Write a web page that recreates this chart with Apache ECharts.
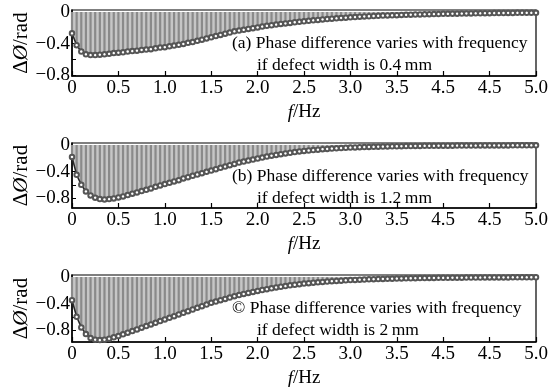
<!DOCTYPE html>
<html>
<head>
<meta charset="utf-8">
<script src="https://cdn.jsdelivr.net/npm/echarts@6/dist/echarts.min.js"></script>
<style>
html,body{margin:0;padding:0;background:#fff;}
#c{width:555px;height:387px;}
</style>
</head>
<body>
<div id="c"></div>
<script>
// ---- data ----
var freq = [0.00,0.05,0.10,0.15,0.20,0.25,0.30,0.35,0.40,0.45,0.50,0.55,0.60,0.65,0.70,0.75,0.80,0.85,0.90,0.95,
1.00,1.05,1.10,1.15,1.20,1.25,1.30,1.35,1.40,1.45,1.50,1.55,1.60,1.65,1.70,1.75,1.80,1.85,1.90,1.95,
2.00,2.05,2.10,2.15,2.20,2.25,2.30,2.35,2.40,2.45,2.50,2.55,2.60,2.65,2.70,2.75,2.80,2.85,2.90,2.95,
3.00,3.05,3.10,3.15,3.20,3.25,3.30,3.35,3.40,3.45,3.50,3.55,3.60,3.65,3.70,3.75,3.80,3.85,3.90,3.95,
4.00,4.05,4.10,4.15,4.20,4.25,4.30,4.35,4.40,4.45,4.50,4.55,4.60,4.65,4.70,4.75,4.80,4.85,4.90,4.95,5.00];

var phaseA = [-0.27,-0.42,-0.50,-0.535,-0.545,-0.545,-0.54,-0.535,-0.53,-0.52,-0.515,-0.51,-0.50,-0.495,-0.49,-0.48,-0.475,-0.47,-0.46,-0.45,
-0.445,-0.435,-0.425,-0.415,-0.405,-0.39,-0.38,-0.365,-0.35,-0.335,-0.32,-0.305,-0.29,-0.275,-0.26,-0.245,-0.235,-0.225,-0.215,-0.205,
-0.195,-0.185,-0.175,-0.168,-0.16,-0.152,-0.145,-0.138,-0.13,-0.124,-0.118,-0.112,-0.106,-0.10,-0.095,-0.09,-0.085,-0.08,-0.076,-0.072,
-0.068,-0.064,-0.06,-0.057,-0.054,-0.051,-0.048,-0.046,-0.044,-0.042,-0.04,-0.038,-0.036,-0.034,-0.032,-0.031,-0.029,-0.028,-0.027,-0.026,
-0.024,-0.023,-0.022,-0.021,-0.02,-0.019,-0.018,-0.017,-0.017,-0.016,-0.015,-0.014,-0.014,-0.013,-0.012,-0.012,-0.011,-0.011,-0.01,-0.01,-0.01];

var phaseB = [-0.18,-0.45,-0.60,-0.70,-0.76,-0.795,-0.815,-0.82,-0.815,-0.805,-0.79,-0.775,-0.755,-0.735,-0.715,-0.695,-0.675,-0.655,-0.63,-0.61,
-0.59,-0.57,-0.55,-0.53,-0.505,-0.485,-0.465,-0.445,-0.425,-0.405,-0.385,-0.365,-0.345,-0.325,-0.305,-0.285,-0.265,-0.25,-0.235,-0.22,
-0.205,-0.19,-0.175,-0.162,-0.15,-0.138,-0.127,-0.117,-0.107,-0.098,-0.09,-0.083,-0.076,-0.07,-0.064,-0.059,-0.054,-0.05,-0.046,-0.042,
-0.039,-0.036,-0.033,-0.031,-0.029,-0.027,-0.025,-0.023,-0.022,-0.02,-0.019,-0.018,-0.017,-0.016,-0.015,-0.014,-0.013,-0.013,-0.012,-0.011,
-0.011,-0.01,-0.01,-0.009,-0.009,-0.008,-0.008,-0.008,-0.007,-0.007,-0.007,-0.006,-0.006,-0.006,-0.006,-0.005,-0.005,-0.005,-0.005,-0.005,-0.005];

var phaseC = [-0.35,-0.60,-0.76,-0.86,-0.92,-0.945,-0.95,-0.945,-0.93,-0.91,-0.89,-0.865,-0.84,-0.815,-0.79,-0.765,-0.74,-0.715,-0.69,-0.665,
-0.64,-0.615,-0.59,-0.565,-0.54,-0.515,-0.49,-0.465,-0.44,-0.415,-0.39,-0.37,-0.35,-0.33,-0.31,-0.29,-0.272,-0.255,-0.24,-0.225,
-0.21,-0.196,-0.183,-0.17,-0.158,-0.147,-0.136,-0.126,-0.117,-0.108,-0.10,-0.093,-0.086,-0.08,-0.074,-0.069,-0.064,-0.059,-0.055,-0.051,
-0.047,-0.044,-0.041,-0.038,-0.035,-0.033,-0.031,-0.029,-0.027,-0.025,-0.023,-0.022,-0.02,-0.019,-0.018,-0.017,-0.016,-0.015,-0.014,-0.013,
-0.012,-0.012,-0.011,-0.01,-0.01,-0.009,-0.009,-0.008,-0.008,-0.007,-0.007,-0.007,-0.006,-0.006,-0.006,-0.005,-0.005,-0.005,-0.005,-0.004,-0.004];

var xTickLabels = ['0','0.5','1.0','1.5','2.0','2.5','3.0','3.5','4.5','4.5','5.0'];
var yTickValues = [-0.8, -0.4, 0];
var yTickLabels = ['\u22120.8', '\u22120.4', '0'];
var yMinorTicks = [-0.8, -0.6, -0.4, -0.2, 0];
var yRanges = [[-0.81, 0.025], [-0.95, 0.03], [-0.98, 0.03]];
var captionsLine1 = ['(a) Phase difference varies with frequency', '(b) Phase difference varies with frequency', '\u00A9 Phase difference varies with frequency'];
var captionsLine2 = ['if defect width is 0.4\u2009mm', 'if defect width is 1.2\u2009mm', 'if defect width is 2\u2009mm'];
var seriesValues = [phaseA, phaseB, phaseC];

// ---- layout ----
var FONT = '"Liberation Serif","Times New Roman",serif';
var grids = [
  {left: 72, right: 19, top: 10, height: 66},
  {left: 72, right: 19, top: 143, height: 65},
  {left: 72, right: 19, top: 275, height: 67}
];

function pairs(vals) {
  return freq.map(function (f, i) { return [f, vals[i]]; });
}

var option = {
  backgroundColor: '#fff',
  animation: false,
  grid: grids.map(function (g) {
    return {left: g.left, right: g.right, top: g.top, height: g.height, show: true,
      outerBoundsMode: 'none', containLabel: false,
      borderColor: '#000', borderWidth: 1.2, backgroundColor: 'transparent'};
  }),
  xAxis: grids.map(function (g, i) {
    return {
      type: 'value', gridIndex: i, min: 0, max: 5, interval: 0.5,
      name: '{i|f}/Hz', nameLocation: 'middle', nameGap: 27, nameMoveOverlap: false,
      nameTextStyle: {fontFamily: FONT, fontSize: 19, color: '#000',
        rich: {i: {fontFamily: FONT, fontSize: 19, fontStyle: 'italic', color: '#000'}}},
      axisLine: {onZero: false, lineStyle: {color: '#000', width: 1.5}},
      axisTick: {inside: true, length: 5, lineStyle: {color: '#000', width: 1.2}},
      axisLabel: {fontFamily: FONT, fontSize: 19, color: '#000', margin: 3,
        formatter: function (v) { return xTickLabels[Math.round(v / 0.5)]; }},
      splitLine: {show: false}
    };
  }),
  yAxis: grids.map(function (g, i) {
    return {
      type: 'value', gridIndex: i, min: yRanges[i][0], max: yRanges[i][1],
      name: '{n|\u0394}{i|\u00D8}{n|/rad}', nameLocation: 'middle', nameGap: 40, nameRotate: 90,
      nameMoveOverlap: false,
      nameTextStyle: {fontFamily: FONT, fontSize: 21, color: '#000',
        rich: {n: {fontFamily: FONT, fontSize: 21, color: '#000'},
               i: {fontFamily: FONT, fontSize: 21, fontStyle: 'italic', color: '#000'}}},
      axisLine: {show: true, onZero: false, lineStyle: {color: '#000', width: 1.5}},
      axisTick: {inside: true, length: 4, customValues: yMinorTicks, lineStyle: {color: '#000'}},
      axisLabel: {fontFamily: FONT, fontSize: 19, color: '#000', margin: 2,
        customValues: yTickValues,
        formatter: function (v) {
          var k = yTickValues.findIndex(function (t) { return Math.abs(t - v) < 1e-6; });
          return k >= 0 ? yTickLabels[k] : '';
        }},
      splitLine: {show: false}
    };
  }),
  series: [],
  graphic: []
};

seriesValues.forEach(function (vals, i) {
  var d = pairs(vals);
  option.series.push({
    type: 'line', xAxisIndex: i, yAxisIndex: i, data: d, showSymbol: false, z: 1,
    lineStyle: {width: 0}, areaStyle: {color: '#c6c6c6', opacity: 1}, silent: true
  });
  option.series.push({
    type: 'bar', xAxisIndex: i, yAxisIndex: i, data: d, barWidth: 2.2, z: 2,
    itemStyle: {color: '#8a8a8a'}, silent: true
  });
  option.series.push({
    type: 'line', xAxisIndex: i, yAxisIndex: i, data: d, z: 3,
    symbol: 'emptyCircle', symbolSize: 4.5, showSymbol: true,
    lineStyle: {color: '#2a2a2a', width: 1.6},
    itemStyle: {color: '#555', borderColor: '#3a3a3a', borderWidth: 1}, silent: true
  });
  var g = grids[i];
  option.graphic.push({
    type: 'text', left: 232, top: g.top + 24,
    style: {text: captionsLine1[i], font: '17.5px ' + FONT, fill: '#000'}
  });
  option.graphic.push({
    type: 'text', left: 257, top: g.top + 46,
    style: {text: captionsLine2[i], font: '17.5px ' + FONT, fill: '#000'}
  });
});

var chart = echarts.init(document.getElementById('c'), null, {renderer: 'canvas'});
chart.setOption(option);
</script>
</body>
</html>
